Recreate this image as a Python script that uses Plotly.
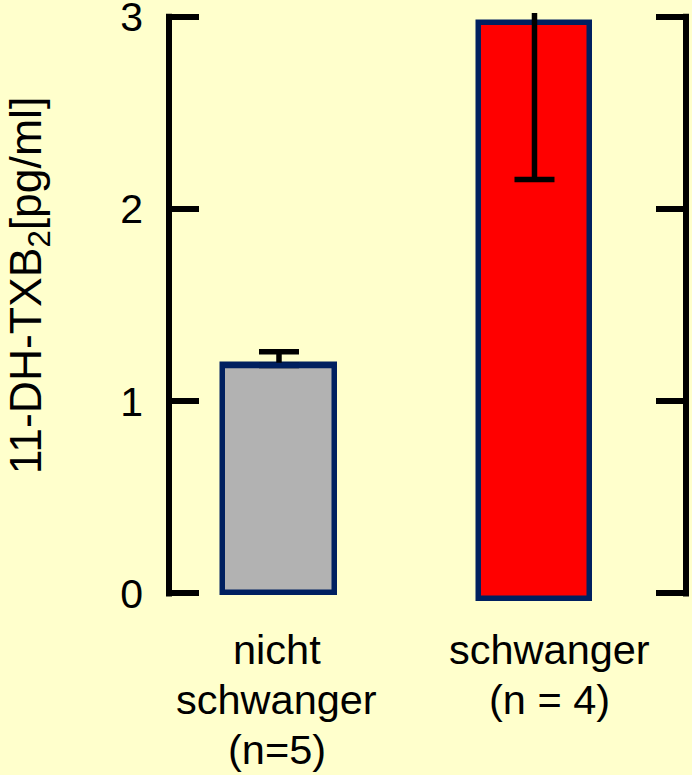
import plotly.graph_objects as go

# Group labels, means and standard errors (pg/ml)
categories = ["nicht<br>schwanger<br>(n=5)", "schwanger<br>(n = 4)"]
means = [1.186, 2.97]
err_plus = [0.072, 0.817]
err_minus = [0.0, 0.817]
bar_base = [0.0, -0.03]
bar_colors = ["#B2B2B2", "#FF0000"]
y_ticks = [0, 1, 2, 3]
y_title = "11-DH-TXB<sub>2</sub>[pg/ml]"

FONT = "Arial, Liberation Sans, sans-serif"
BG = "#FFFFCC"
OUTLINE = "#002060"

W, H = 692, 775
ml, mr, mt = 169, 6, 13
y_range = [-0.05, 3.02]
plot_h = 590.5
mb = H - mt - plot_h
px_per_unit = plot_h / (y_range[1] - y_range[0])
line_w = 6
pad = (line_w / 2) / px_per_unit
bar_w = 0.438
outline_w = 5.5

fig = go.Figure()

fig.add_trace(go.Bar(
    x=categories, y=[m - b for m, b in zip(means, bar_base)], base=bar_base,
    width=bar_w,
    marker=dict(color=bar_colors, line=dict(color=OUTLINE, width=outline_w)),
    hoverinfo="skip", showlegend=False,
))

# standard-error bars at the group means
fig.add_trace(go.Scatter(
    x=categories, y=means, mode="markers",
    marker=dict(size=0.1, opacity=0),
    error_y=dict(type="data", symmetric=False, array=err_plus,
                 arrayminus=err_minus, color="black", thickness=5.5, width=20),
    cliponaxis=True, hoverinfo="skip", showlegend=False,
))

# one-sided bars: redraw the top edge so no lower cap shows on it
for i, (m, lo) in enumerate(zip(means, err_minus)):
    if lo == 0:
        fig.add_shape(type="line", xref="x", yref="y",
                      x0=i - bar_w / 2, x1=i + bar_w / 2, y0=m, y1=m,
                      line=dict(color=OUTLINE, width=outline_w), layer="above")

# left and right vertical axis lines spanning the tick range
for xp in (0, 1):
    fig.add_shape(type="line", xref="paper", yref="y", x0=xp, x1=xp,
                  y0=min(y_ticks) - pad, y1=max(y_ticks) + pad,
                  line=dict(color="black", width=line_w), layer="above")

# category labels under each bar, one annotation per line
label_shift = [-2, 15]
first_line_px = 650
line_gap = 50
for cat, dx in zip(categories, label_shift):
    for i, part in enumerate(cat.split("<br>")):
        y_px = first_line_px + i * line_gap
        fig.add_annotation(x=cat, xref="x",
                           y=(mt + plot_h - y_px) / plot_h, yref="paper",
                           xanchor="center", yanchor="middle", xshift=dx,
                           text=part, showarrow=False,
                           font=dict(family=FONT, size=41.5, color="black"))

fig.add_annotation(text=y_title, textangle=-90, xref="paper", yref="paper",
                   x=(29 - ml) / (W - ml - mr), y=(mt + plot_h - 285.5) / plot_h,
                   xanchor="center", yanchor="middle", showarrow=False,
                   font=dict(family=FONT, size=44.5, color="black"))

fig.update_layout(
    width=W, height=H, autosize=False,
    margin=dict(l=ml, r=mr, t=mt, b=mb, pad=0),
    paper_bgcolor=BG, plot_bgcolor=BG,
    bargap=0,
    xaxis=dict(type="category", range=[-0.4305, 1.593], showticklabels=False,
               ticks="", showline=False, showgrid=False, zeroline=False,
               automargin=False, fixedrange=True),
    yaxis=dict(range=y_range, tickvals=y_ticks, ticks="inside", ticklen=30,
               tickwidth=line_w, tickcolor="black", mirror="ticks",
               showline=False, showgrid=False, zeroline=False,
               ticklabelstandoff=25, ticklabeloverflow="allow",
               automargin=False,
               tickfont=dict(family=FONT, size=41, color="black"),
               fixedrange=True),
)

fig.write_html("out.html")
